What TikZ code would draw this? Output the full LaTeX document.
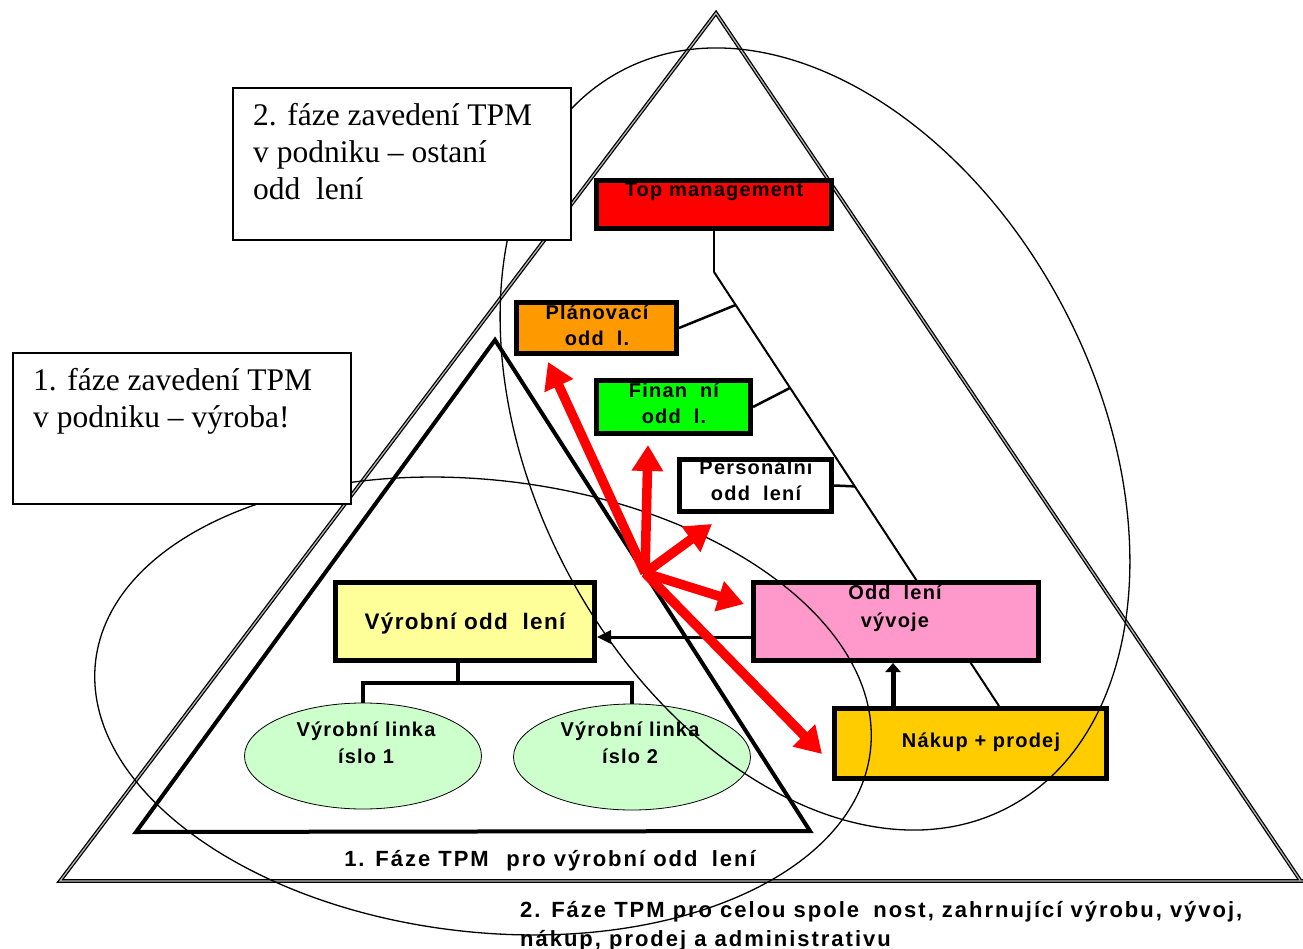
\documentclass[tikz,border=0pt]{standalone}
\usepackage{fontspec}
\setmainfont{Liberation Serif}
\newfontfamily\orgfont[LetterSpace=6]{Liberation Sans Bold}
\newfontfamily\capfont[LetterSpace=9]{Liberation Sans Bold}
\usetikzlibrary{shapes.geometric, arrows.meta, calc}

\definecolor{topRed}{HTML}{FF0000}
\definecolor{planOrange}{HTML}{FF9900}
\definecolor{finGreen}{HTML}{00FF00}
\definecolor{devPink}{HTML}{FF99CC}
\definecolor{salesGold}{HTML}{FFCC00}
\definecolor{prodYellow}{HTML}{FFFF99}
\definecolor{lineGreen}{HTML}{CCFFCC}

% gap left by a glyph the source font could not show
\newcommand\gp{\hspace{0.65em}}

\pgfdeclarelayer{bg}
\pgfsetlayers{bg,main}

\begin{document}
\begin{tikzpicture}[x=1pt, y=-1pt,
  orgbox/.style={draw=black, line width=5pt, rectangle, inner sep=0pt},
  notebox/.style={draw=black, line width=1.8pt, fill=white, rectangle, inner sep=0pt},
  linkell/.style={ellipse, draw=black, line width=0.8pt, fill=lineGreen, inner sep=0pt},
  orgtxt/.style={font=\orgfont\fontsize{20}{26}\selectfont, inner sep=0pt, anchor=base, align=center},
  notetxt/.style={font=\fontsize{31.5}{37}\selectfont, inner sep=0pt, anchor=base west, align=left},
  captxt/.style={font=\capfont\fontsize{22}{29}\selectfont, inner sep=0pt},
  phase/.style={draw=black, line width=1.3pt},
  bigtri/.style={draw=black, line width=1.3pt, double=gray!55, double distance=1.2pt, line join=miter},
  smalltri/.style={draw=black, line width=4pt, line join=miter},
  trunk/.style={draw=black, line width=2pt},
  twig/.style={draw=black, line width=2.5pt},
  tree/.style={draw=black, line width=3.5pt},
  redarrow/.style={draw=red, line width=9.5pt, -{Triangle[length=26pt,width=30pt]}},
  blkarrow/.style={draw=black, line width=3pt, -{Triangle[length=14pt,width=13pt]}},
  uparrow/.style={draw=black, line width=5pt, -{Triangle[length=9pt,width=15pt]}},
]
\useasboundingbox (0,0) rectangle (1303,949);

% ---------- department boxes ----------
\node[orgbox, fill=topRed, minimum width=235, minimum height=48] (top) at (714,204.5) {};
\node[orgbox, fill=planOrange, minimum width=160, minimum height=51] (plan) at (596.5,328) {};
\node[orgbox, fill=finGreen, minimum width=154, minimum height=53] (fin) at (673.5,407) {};
\node[orgbox, fill=white, minimum width=152, minimum height=52] (pers) at (755.5,485.5) {};
\node[orgbox, fill=devPink, minimum width=285, minimum height=78] (vyv) at (896,621.5) {};
\node[orgbox, fill=salesGold, minimum width=272, minimum height=70] (nak) at (970.5,743.5) {};
\node[orgbox, fill=prodYellow, minimum width=259, minimum height=78] (vyr) at (465,621.5) {};
\node[linkell, minimum width=237, minimum height=106] (link1) at (363,756) {};
\node[linkell, minimum width=237, minimum height=106] (link2) at (632,757) {};

% (a multi-line node's base is the baseline of its last line)
\node[orgtxt] (toptxt) at (714,197) {Top management};
\node[orgtxt] (plantxt) at (597,345) {Plánovací\\odd\gp l.};
\node[orgtxt] (fintxt) at (674,423) {Finan\gp ní\\odd\gp l.};
\node[orgtxt] (perstxt) at (756,500) {Personálni\\odd\gp lení};
\node[orgtxt, font=\orgfont\fontsize{20}{28}\selectfont] (vyvtxt) at (895,627) {Odd\gp lení\\vývoje};
\node[orgtxt] (naktxt) at (981,747) {Nákup + prodej};
\node[orgtxt, font=\orgfont\fontsize{22.5}{26}\selectfont] (vyrtxt) at (465,629) {Výrobní odd\gp lení};
\node[orgtxt, font=\orgfont\fontsize{20}{27}\selectfont] (l1txt) at (366,763) {Výrobní linka\\íslo 1};
\node[orgtxt, font=\orgfont\fontsize{20}{27}\selectfont] (l2txt) at (630,763) {Výrobní linka\\íslo 2};

% ---------- pyramids and the organisation lines behind the boxes ----------
\coordinate (elbow) at (714,272);
\coordinate (trunkend) at (999,706);
\coordinate (fork) at (458,683);
\begin{pgfonlayer}{bg}
  \draw[bigtri] (1303,881) -- (60,881) -- (716,13) -- (1300,880);
  \draw[smalltri] (495,340) -- (136,832) -- (810,831) -- cycle;
  \draw[twig] (top.south) -- (elbow);
  \draw[trunk] (elbow) -- (trunkend);
  \draw[twig] (plan.east) -- ($(elbow)!0.076!(trunkend)$);
  \draw[twig] (fin.east) -- ($(elbow)!0.267!(trunkend)$);
  \draw[twig] (pers.east) -- ($(elbow)!0.494!(trunkend)$);
  \draw[tree] (vyr.south -| fork) -- (fork);
  \draw[tree] (link1.north) |- (fork) -| (link2.north);
\end{pgfonlayer}

% ---------- the two phases ----------
\draw[phase, rotate around={-6.6:(483,706)}] (483,706) ellipse [x radius=390, y radius=226];
\draw[phase, rotate around={27.6:(815,439)}] (815,439) ellipse [x radius=281, y radius=416];

% ---------- notes ----------
\node[notebox, minimum width=338, minimum height=152] (note2) at (402,164) {};
\node[notetxt] (n2txt) at (253,200) {2. fáze zavedení TPM\\v podniku – ostaní\\odd\hspace{0.5em}lení};
\node[notebox, minimum width=338, minimum height=151] (note1) at (182,428.5) {};
\node[notetxt] (n1txt) at (33,427) {1. fáze zavedení TPM\\v podniku – výroba!};

% ---------- arrows ----------
\draw[blkarrow] ($(vyv.west)+(0,15.5)$) -- ($(vyr.east)+(0,15.5)$);
\draw[uparrow] (nak.north -| 893,0) -- (vyv.south -| 893,0);

\coordinate (hub) at (645,573);
\coordinate (planTip) at (548,362);
\coordinate (finTip) at (648,445);
\coordinate (persTip) at (712,524);
\coordinate (vyvTip) at (744,604);
\coordinate (nakTip) at (822,754);
\draw[redarrow] (hub) -- (planTip);
\draw[redarrow] (hub) -- (finTip);
\draw[redarrow] (hub) -- (persTip);
\draw[redarrow] (hub) -- (vyvTip);
\draw[redarrow] (hub) -- (nakTip);

% ---------- captions ----------
\node[captxt, anchor=base] (cap1) at (550,866) {1. Fáze TPM\hspace{0.8em}pro výrobní odd\gp lení};
\node[captxt, anchor=base west, align=left] (cap2) at (520,946) {2. Fáze TPM pro celou spole\gp nost, zahrnující výrobu, vývoj,\\nákup, prodej a administrativu};
\end{tikzpicture}
\end{document}
